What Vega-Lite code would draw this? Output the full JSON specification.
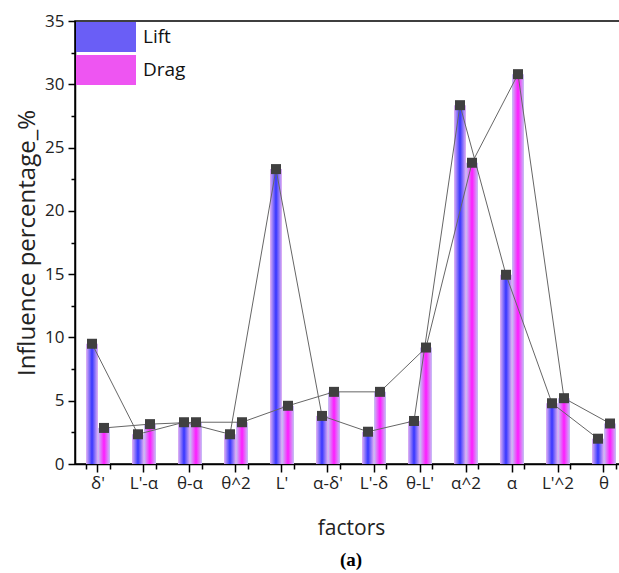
{
  "$schema": "https://vega.github.io/schema/vega-lite/v6.json",
  "width": 552,
  "height": 443,
  "autosize": {"type": "none"},
  "padding": {"left": 75, "top": 21, "right": 0, "bottom": 109},
  "config": {
    "font": "Open Sans",
    "view": {"stroke": "#000", "strokeWidth": 1.5}
  },
  "title": {"text": "(a)", "orient": "bottom", "font": "Liberation Serif", "fontWeight": "bold", "fontSize": 19, "offset": 13, "color": "#000"},
  "data": {
    "values": [
      {"factor": "δ'", "series": "Lift", "value": 9.5},
      {"factor": "L'-α", "series": "Lift", "value": 2.35},
      {"factor": "θ-α", "series": "Lift", "value": 3.3},
      {"factor": "θ^2", "series": "Lift", "value": 2.35},
      {"factor": "L'", "series": "Lift", "value": 23.3},
      {"factor": "α-δ'", "series": "Lift", "value": 3.8},
      {"factor": "L'-δ", "series": "Lift", "value": 2.55},
      {"factor": "θ-L'", "series": "Lift", "value": 3.4},
      {"factor": "α^2", "series": "Lift", "value": 28.35},
      {"factor": "α", "series": "Lift", "value": 14.95},
      {"factor": "L'^2", "series": "Lift", "value": 4.8},
      {"factor": "θ", "series": "Lift", "value": 2.0},
      {"factor": "δ'", "series": "Drag", "value": 2.85},
      {"factor": "L'-α", "series": "Drag", "value": 3.15},
      {"factor": "θ-α", "series": "Drag", "value": 3.3},
      {"factor": "θ^2", "series": "Drag", "value": 3.3},
      {"factor": "L'", "series": "Drag", "value": 4.6},
      {"factor": "α-δ'", "series": "Drag", "value": 5.7},
      {"factor": "L'-δ", "series": "Drag", "value": 5.7},
      {"factor": "θ-L'", "series": "Drag", "value": 9.2},
      {"factor": "α^2", "series": "Drag", "value": 23.8},
      {"factor": "α", "series": "Drag", "value": 30.8},
      {"factor": "L'^2", "series": "Drag", "value": 5.2},
      {"factor": "θ", "series": "Drag", "value": 3.2}
    ]
  },
  "encoding": {
    "xOffset": {"field": "series", "type": "nominal", "sort": ["Lift", "Drag"]},
    "y": {
      "field": "value", "type": "quantitative",
      "scale": {"domain": [0, 35], "nice": false},
      "axis": {
        "title": "Influence percentage_%", "titleFontSize": 24, "titleFontWeight": "normal", "titleColor": "#222", "titlePadding": 5,
        "values": [0, 2.5, 5, 7.5, 10, 12.5, 15, 17.5, 20, 22.5, 25, 27.5, 30, 32.5, 35],
        "labelExpr": "datum.value % 5 === 0 ? datum.label : ''",
        "labelFontSize": 17, "labelColor": "#222", "labelPadding": 4,
        "tickSize": {"condition": {"test": "datum.value % 5 === 0", "value": 7}, "value": 4},
        "tickWidth": 1.5, "tickColor": "#000", "domainWidth": 1.5, "domainColor": "#000", "grid": false
      }
    }
  },
  "layer": [
    {
      "mark": {"type": "bar", "opacity": 0},
      "encoding": {
        "x": {
          "field": "factor", "type": "nominal",
          "sort": ["δ'", "L'-α", "θ-α", "θ^2", "L'", "α-δ'", "L'-δ", "θ-L'", "α^2", "α", "L'^2", "θ"],
          "scale": {"paddingInner": 0.478, "paddingOuter": 0.239},
          "axis": {
            "orient": "bottom",
            "title": "factors", "titleFontSize": 21, "titleFontWeight": "normal", "titleColor": "#222", "titlePadding": 26,
            "labelFontSize": 17, "labelAngle": 0, "labelColor": "#222", "labelPadding": 3,
            "tickSize": 8, "tickWidth": 1.5, "tickColor": "#000", "domainWidth": 1.5, "domainColor": "#000", "grid": false
          }
        },
        "color": {
          "field": "series", "type": "nominal",
          "scale": {"domain": ["Lift", "Drag"], "range": ["#6a5ef6", "#ee55f2"]},
          "legend": {
            "title": null, "orient": "top-left", "offset": 1, "padding": 0,
            "symbolType": "M-1,-1H3V1H-1Z", "symbolSize": 900, "symbolStrokeWidth": 0, "symbolOpacity": 1,
            "labelFontSize": 19, "labelOffset": 37, "rowPadding": 3, "labelColor": "#111", "labelFont": "Open Sans"
          }
        }
      }
    },
    {
      "transform": [{"filter": "datum.series === 'Lift'"}],
      "mark": {"type": "bar", "fill": {"gradient": "linear", "x1": 0, "y1": 0, "x2": 1, "y2": 0, "stops": [{"offset": 0, "color": "#e4b4f4"}, {"offset": 0.5, "color": "#3535ff"}, {"offset": 1, "color": "#e4b4f4"}]}},
      "encoding": {
        "x": {"field": "factor", "type": "nominal", "sort": ["δ'", "L'-α", "θ-α", "θ^2", "L'", "α-δ'", "L'-δ", "θ-L'", "α^2", "α", "L'^2", "θ"], "scale": {"paddingInner": 0.478, "paddingOuter": 0.239}, "axis": null}
      }
    },
    {
      "transform": [{"filter": "datum.series === 'Drag'"}],
      "mark": {"type": "bar", "fill": {"gradient": "linear", "x1": 0, "y1": 0, "x2": 1, "y2": 0, "stops": [{"offset": 0, "color": "#c4c4f4"}, {"offset": 0.5, "color": "#ff1aff"}, {"offset": 1, "color": "#c4c4f4"}]}},
      "encoding": {
        "x": {"field": "factor", "type": "nominal", "sort": ["δ'", "L'-α", "θ-α", "θ^2", "L'", "α-δ'", "L'-δ", "θ-L'", "α^2", "α", "L'^2", "θ"], "scale": {"paddingInner": 0.478, "paddingOuter": 0.239}, "axis": null}
      }
    },
    {
      "mark": {"type": "line", "color": "#666", "strokeWidth": 1},
      "encoding": {
        "x": {"field": "factor", "type": "nominal", "sort": ["δ'", "L'-α", "θ-α", "θ^2", "L'", "α-δ'", "L'-δ", "θ-L'", "α^2", "α", "L'^2", "θ"], "scale": {"paddingInner": 0.478, "paddingOuter": 0.239}, "axis": null},
        "detail": {"field": "series", "type": "nominal"}
      }
    },
    {
      "mark": {"type": "point", "shape": "square", "filled": true, "size": 100, "color": "#404040", "opacity": 1},
      "encoding": {
        "x": {
          "field": "factor", "type": "nominal",
          "sort": ["δ'", "L'-α", "θ-α", "θ^2", "L'", "α-δ'", "L'-δ", "θ-L'", "α^2", "α", "L'^2", "θ"],
          "scale": {"paddingInner": 0.478, "paddingOuter": 0.239},
          "axis": {"orient": "bottom", "title": null, "labels": false, "domain": false, "tickBand": "extent", "tickSize": 5, "tickWidth": 1.5, "tickColor": "#000", "grid": false}
        }
      }
    }
  ],
  "resolve": {"axis": {"x": "independent"}}
}
